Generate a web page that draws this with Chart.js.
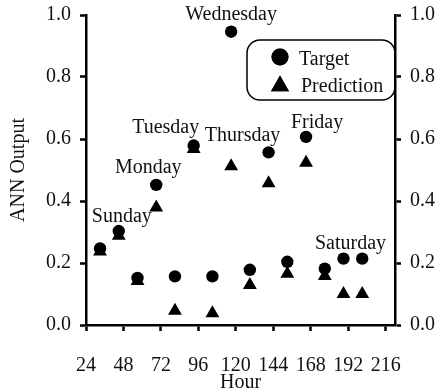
<!DOCTYPE html>
<html>
<head>
<meta charset="utf-8">
<script src="https://cdn.jsdelivr.net/npm/chart.js@4/dist/chart.umd.min.js"></script>
<style>
  html, body { margin: 0; padding: 0; background: #fff; }
</style>
</head>
<body>
<canvas id="chart" width="441" height="390"></canvas>
<script>
// hours at which each point sits
const hours = [33, 45, 57, 69, 81, 93, 105, 117, 129, 141, 153, 165, 177, 189, 201]
const target = [0.247, 0.303, 0.152, 0.452, 0.157, 0.579, 0.157, 0.946, 0.178, 0.557, 0.204, 0.607, 0.182, 0.214, 0.214]
const prediction = [0.237, 0.288, 0.142, 0.379, 0.046, 0.568, 0.038, 0.512, 0.129, 0.457, 0.165, 0.523, 0.158, 0.1, 0.1]
const xTicks = [24, 48, 72, 96, 120, 144, 168, 192, 216]
const yTicks = [0, 0.2, 0.4, 0.6, 0.8, 1.0]
const dayNames = ['Sunday', 'Monday', 'Tuesday', 'Wednesday', 'Thursday', 'Friday', 'Saturday']
const dayPoint = [1, 3, 5, 7, 9, 11, 13]

const serif = 'Liberation Serif'
const ink = '#111'

// text offsets (px) of each day name from its target point
const dayOffset = [[3, -9], [-8, -12], [-28, -13], [0, -12], [-26, -11], [11, -9], [7, -10]]

let dayLabels = {
    id: 'dayLabels',
    afterDatasetsDraw(chart) {
        let ctx = chart.ctx
        let x = chart.scales.x, y = chart.scales.y
        ctx.save()
        ctx.font = '20px "' + serif + '"'
        ctx.fillStyle = ink
        ctx.textAlign = 'center'
        ctx.textBaseline = 'alphabetic'
        dayNames.forEach((name, i) => {
            let p = dayPoint[i]
            let px = x.getPixelForValue(hours[p]) + dayOffset[i][0]
            let py = y.getPixelForValue(target[p]) + dayOffset[i][1]
            ctx.fillText(name, px, py)
        })
        ctx.restore()
    }
}

let boxLegend = {
    id: 'boxLegend',
    afterDraw(chart) {
        let ctx = chart.ctx
        let area = chart.chartArea
        let w = 148, h = 60
        let left = area.right - w, top = area.top + 25
        ctx.save()
        ctx.lineWidth = 1.5
        ctx.strokeStyle = '#000'
        ctx.beginPath()
        ctx.roundRect(left, top, w, h, 13)
        ctx.stroke()

        let mx = left + 33
        ctx.fillStyle = '#000'
        Chart.helpers.drawPoint(ctx, { pointStyle: 'circle', radius: 8.5, borderWidth: 0 }, mx, top + 17)
        ctx.fill()
        Chart.helpers.drawPoint(ctx, { pointStyle: 'triangle', radius: 10.4, borderWidth: 0 }, mx, top + 46)
        ctx.fill()

        ctx.font = '20px "' + serif + '"'
        ctx.fillStyle = ink
        ctx.textBaseline = 'alphabetic'
        ctx.textAlign = 'left'
        ctx.fillText('Target', left + 52, top + 25)
        ctx.fillText('Prediction', left + 54, top + 52)
        ctx.restore()
    }
}

let tickFont = { family: serif, size: 20 }

let axisY = (pos, width) => ({
    type: 'linear',
    position: pos,
    min: 0,
    max: 1,
    afterBuildTicks: s => { s.ticks = yTicks.map(v => ({ value: v })) },
    afterFit: s => {
        s.width = width
        s.paddingTop = 0
        s.paddingBottom = 0
    },
    ticks: {
        font: tickFont,
        color: ink,
        padding: 9,
        callback: v => v.toFixed(1)
    },
    grid: { drawOnChartArea: false, tickLength: 6, tickWidth: 2.5, tickColor: '#000' },
    border: { display: true, color: '#000', width: 2.5 }
})

let graph = document.querySelector('#chart').getContext('2d')

new Chart(graph, {
    type: 'scatter',
    data: {
        datasets: [
            {
                label: 'Target',
                data: hours.map((h, i) => ({ x: h, y: target[i] })),
                pointStyle: 'circle',
                pointRadius: 6.2,
                pointBorderWidth: 0,
                backgroundColor: '#000',
                borderColor: '#000'
            },
            {
                label: 'Prediction',
                data: hours.map((h, i) => ({ x: h, y: prediction[i] })),
                pointStyle: 'triangle',
                pointRadius: 8,
                pointBorderWidth: 0,
                backgroundColor: '#000',
                borderColor: '#000'
            }
        ]
    },
    options: {
        responsive: false,
        animation: false,
        devicePixelRatio: 1,
        layout: { padding: { top: 15, left: 0, right: 0, bottom: 0 } },
        plugins: {
            legend: { display: false },
            tooltip: { enabled: false }
        },
        scales: {
            x: {
                type: 'linear',
                position: 'bottom',
                min: 24,
                max: 222,
                afterBuildTicks: s => { s.ticks = xTicks.map(v => ({ value: v })) },
                afterFit: s => {
                    s.height = 65
                    s.paddingLeft = 0
                    s.paddingRight = 0
                },
                ticks: { font: tickFont, color: ink, padding: 23, maxRotation: 0 },
                grid: { drawOnChartArea: false, tickLength: 6, tickWidth: 2.5, tickColor: '#000' },
                border: { display: true, color: '#000', width: 2.5 },
                title: { display: true, text: 'Hour', font: tickFont, color: ink, padding: { top: 0, bottom: -5 } }
            },
            y: Object.assign(axisY('left', 86), {
                title: { display: true, text: 'ANN Output', font: tickFont, color: ink, padding: { top: 7, bottom: 0 } }
            }),
            y2: axisY('right', 46)
        }
    },
    plugins: [dayLabels, boxLegend]
})
</script>
</body>
</html>
